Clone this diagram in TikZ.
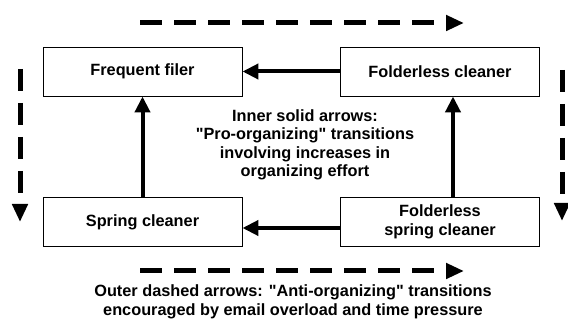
\documentclass[tikz,border=0pt]{standalone}
\usepackage{fontspec}
\setmainfont{Liberation Sans}[Ligatures=TeXOff]
\usetikzlibrary{arrows.meta}
\tikzset{
  x=1pt, y=1pt,
  statebox/.style={draw=black, line width=0.9pt, minimum width=199pt, minimum height=49pt, inner sep=0pt, align=center, font=\bfseries\fontsize{16.3}{18.5}\selectfont},
  solidarr/.style={line width=4pt, -{Triangle[length=16pt, width=15pt]}},
  dasharr/.style={line width=5pt, dash pattern=on 22pt off 12pt, -{Triangle[length=18pt, width=15pt]}},
  note/.style={align=center, font=\bfseries\fontsize{16.3}{18.5}\selectfont}
}
\begin{document}
\begin{tikzpicture}
\useasboundingbox (0,0) rectangle (568,321);
\node[statebox] (ff) at (142.5,249.5) {Frequent filer};
\node[statebox] (fc) at (440,249.5) {Folderless cleaner};
\node[statebox] (sc) at (142.5,99) {Spring cleaner};
\node[statebox] (fsc) at (440,99) {Folderless\\spring cleaner};
\draw[solidarr] (fc.west) -- (ff.east);
\draw[solidarr] (sc.north) -- (ff.south);
\draw[solidarr] ([xshift=13pt]fsc.north) -- ([xshift=13pt]fc.south);
\draw[solidarr] ([yshift=-6pt]fsc.west) -- ([yshift=-6pt]sc.east);
\coordinate (t1) at (140,298);
\coordinate (t2) at (464,298);
\coordinate (b1) at (140,50);
\coordinate (b2) at (464,50);
\coordinate (l1) at (20,252);
\coordinate (l2) at (20,99);
\coordinate (r1) at (562,251);
\coordinate (r2) at (562,100);
\draw[dasharr] (t1) -- (t2);
\draw[dasharr] (b1) -- (b2);
\draw[dasharr] (l1) -- (l2);
\draw[dasharr] (r1) -- (r2);
\node[note] (inner) at (305,176) {Inner solid arrows:\\"Pro-organizing" transitions\\involving increases in\\organizing effort};
\node[note] (outer) at (293,19) {Outer dashed arrows: "Anti-organizing" transitions\\encouraged by email overload and time pressure};
\end{tikzpicture}
\end{document}
